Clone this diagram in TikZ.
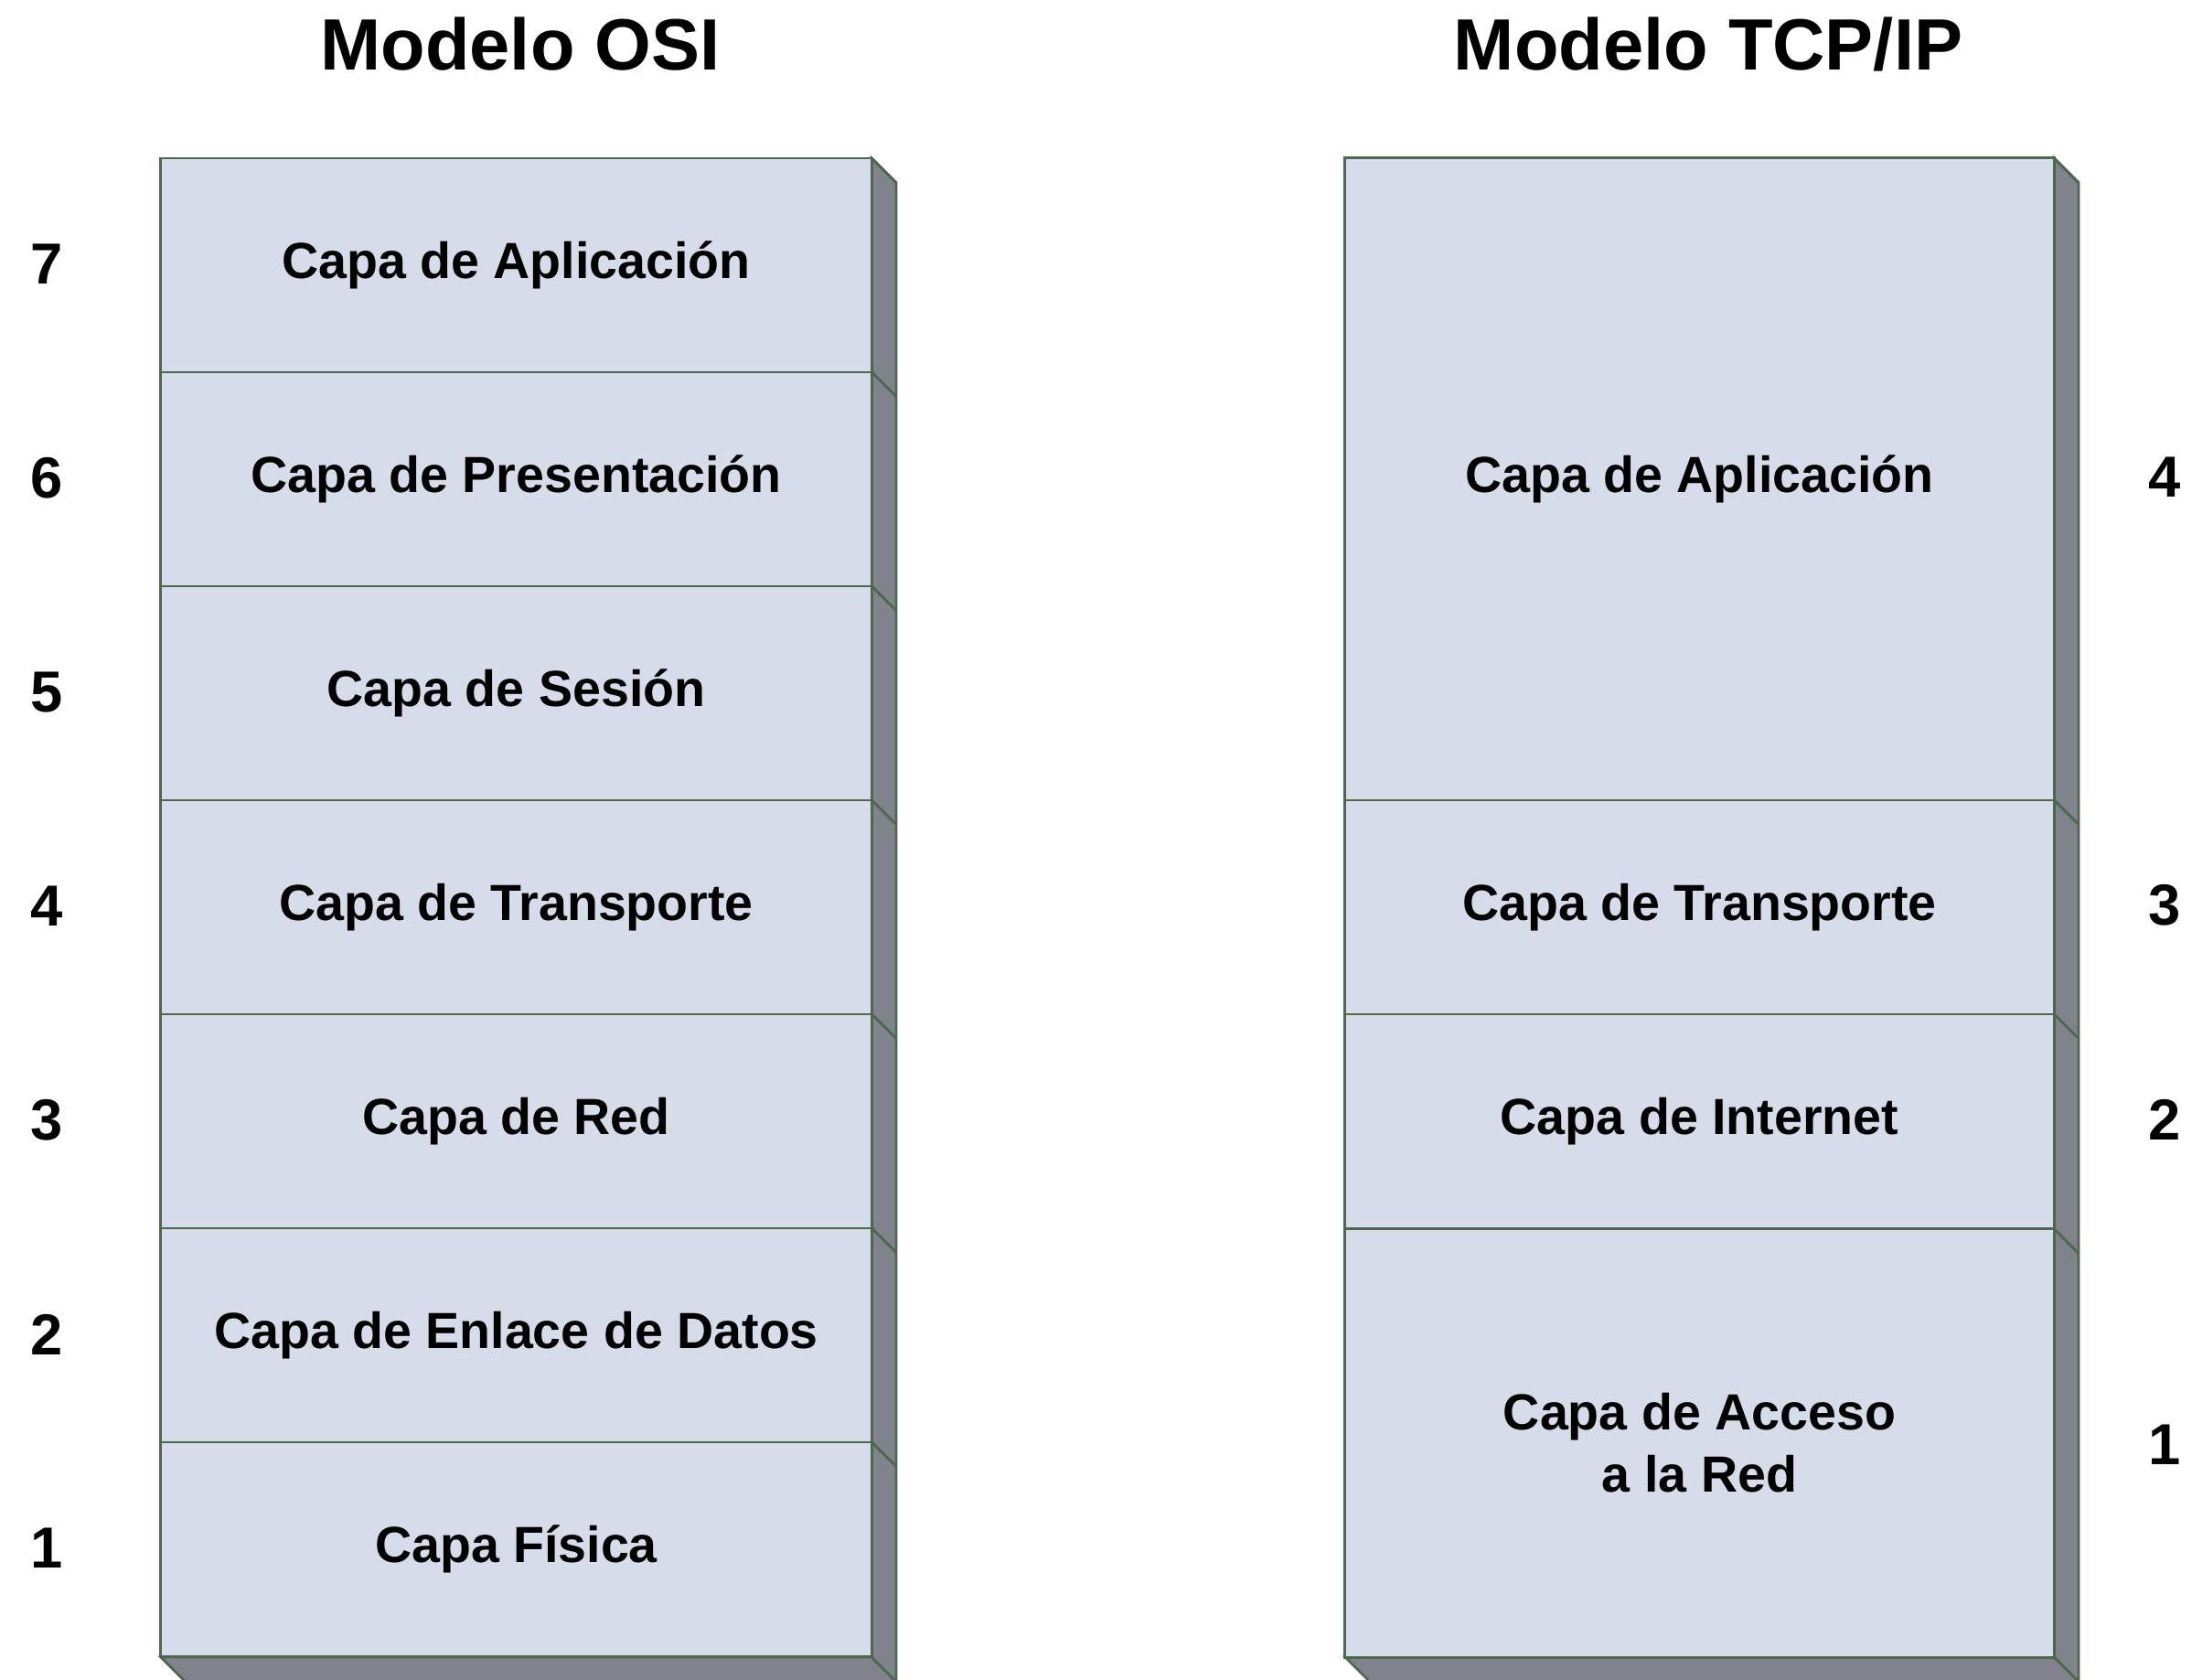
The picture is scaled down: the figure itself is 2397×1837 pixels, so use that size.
\documentclass[tikz,border=0pt]{standalone}
\usepackage{fontspec}
\setmainfont{Liberation Sans}
\definecolor{frontc}{RGB}{214,220,233}
\definecolor{sidec}{RGB}{128,131,140}
\definecolor{edgec}{RGB}{78,104,80}
\begin{document}
\begin{tikzpicture}[x=0.01cm,y=-0.01cm,
  edge/.style={draw=edgec,line width=0.8pt},
  sideface/.style={fill=sidec,edge,line join=miter},
  layer/.style={edge,fill=frontc,minimum width=7.77cm,inner sep=0pt,outer sep=0pt,
    align=center,font=\bfseries\fontsize{15.8}{19.3}\selectfont},
  num/.style={inner sep=0pt,font=\bfseries\fontsize{18}{22}\selectfont},
  title/.style={inner sep=0pt,anchor=base,font=\bfseries\fontsize{22.6}{26}\selectfont}]
\useasboundingbox (0,0) rectangle (2397,1837);
\fill[white] (0,0) rectangle (2397,1837);

% titles
\node[title] (tosi) at (569,77) {Modelo OSI};
\node[title] (ttcp) at (1868,77) {Modelo TCP/IP};

% OSI 3D faces
\path[sideface] (953,173) -- (980,200) -- (980,1839) -- (953,1812) -- cycle;
\path[sideface] (176,1812) -- (953,1812) -- (980,1839) -- (203,1839) -- cycle;
% TCP 3D faces
\path[sideface] (2246,173) -- (2273,200) -- (2273,1839) -- (2246,1812) -- cycle;
\path[sideface] (1471,1812) -- (2246,1812) -- (2273,1839) -- (1498,1839) -- cycle;

% OSI layers
\foreach \k/\txt [count=\i from 0] in {7/Capa de Aplicación,6/Capa de Presentación,5/Capa de Sesión,4/Capa de Transporte,3/Capa de Red,2/Capa de Enlace de Datos,1/Capa Física}{
  \node[layer,minimum height=2.34cm] (osi\k) at (564.5,{290+234*\i}) {\txt};
  \draw[edge] (osi\k.north east) -- ++(27,27);
  \node[num] (no\k) at (51,{289+234*\i}) {\k};
}

% TCP/IP layers
\node[layer,minimum width=7.75cm,minimum height=7.02cm] (tcp4) at (1858.5,524) {Capa de Aplicación};
\node[layer,minimum width=7.75cm,minimum height=2.34cm] (tcp3) at (1858.5,992) {Capa de Transporte};
\node[layer,minimum width=7.75cm,minimum height=2.34cm] (tcp2) at (1858.5,1226) {Capa de Internet};
\node[layer,minimum width=7.75cm,minimum height=4.68cm] (tcp1) at (1858.5,1578) {Capa de Acceso\\a la Red};
\foreach \k in {4,3,2,1}{
  \draw[edge] (tcp\k.north east) -- ++(27,27);
}
\node[num] (nt4) at (2367,522) {4};
\node[num] (nt3) at (2367,990) {3};
\node[num] (nt2) at (2367,1224) {2};
\node[num] (nt1) at (2367,1580) {1};
\end{tikzpicture}
\end{document}
